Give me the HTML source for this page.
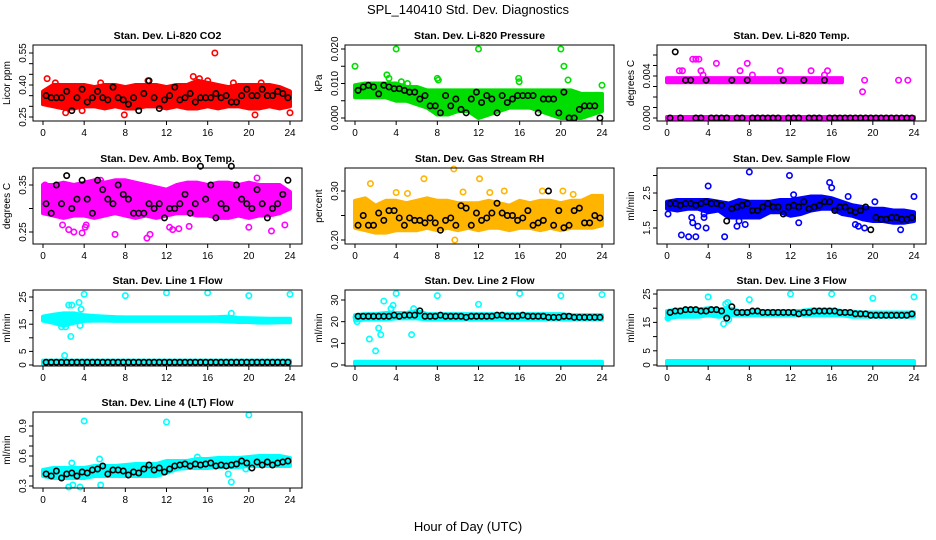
<!DOCTYPE html>
<html><head><meta charset="utf-8">
<style>
html,body{margin:0;padding:0;background:#fff;}
svg{display:block;font-family:"Liberation Sans",sans-serif;}
</style></head>
<body>
<svg id="chart" width="936" height="540" viewBox="0 0 936 540">
<text x="468" y="14" text-anchor="middle" font-size="13">SPL_140410  Std. Dev. Diagnostics</text>
<text x="468" y="531" text-anchor="middle" font-size="13">Hour of Day (UTC)</text>
</svg>
<script>
const bandHours=[0,1,2,3,4,5,6,7,8,9,10,11,12,13,14,15,16,17,18,19,20,21,22,23,24];
const blackHours=[0.3,0.8,1.3,1.8,2.3,2.8,3.3,3.8,4.3,4.8,5.3,5.8,6.3,6.8,7.3,7.8,8.3,8.8,9.3,9.8,10.3,10.8,11.3,11.8,12.3,12.8,13.3,13.8,14.3,14.8,15.3,15.8,16.3,16.8,17.3,17.8,18.3,18.8,19.3,19.8,20.3,20.8,21.3,21.8,22.3,22.8,23.3,23.8];
const xTicks=[0,4,8,12,16,20,24];

const co2Lo=[0.31,0.30,0.29,0.29,0.30,0.30,0.29,0.30,0.29,0.29,0.30,0.30,0.29,0.30,0.29,0.29,0.30,0.29,0.30,0.30,0.29,0.29,0.30,0.29,0.30];
const co2Hi=[0.37,0.40,0.40,0.40,0.40,0.39,0.40,0.40,0.39,0.40,0.40,0.40,0.39,0.40,0.40,0.42,0.41,0.40,0.39,0.40,0.40,0.40,0.40,0.39,0.37];
const co2OutX=[0.4,2.2,3.8,7.9,14.6,15.2,16.7,20.6,24,10.2,5.6,16,1.2,18.5,21.2];
const co2OutY=[0.43,0.27,0.28,0.26,0.44,0.43,0.55,0.26,0.27,0.42,0.41,0.42,0.41,0.41,0.41];
const co2Black=[0.35,0.34,0.34,0.34,0.37,0.28,0.34,0.38,0.32,0.34,0.37,0.34,0.33,0.39,0.34,0.33,0.31,0.34,0.28,0.36,0.42,0.34,0.29,0.33,0.35,0.39,0.33,0.34,0.36,0.32,0.34,0.34,0.34,0.36,0.34,0.35,0.32,0.32,0.35,0.38,0.35,0.35,0.38,0.35,0.35,0.37,0.36,0.34];

const presLo=[0.006,0.006,0.006,0.006,0.005,0.005,0.004,0.003,0.001,0.001,0.002,0.002,0.000,0.001,0.002,0.003,0.003,0.003,0.002,0.001,0.000,0.000,0.000,0.001,0.002];
const presHi=[0.0095,0.0100,0.0100,0.0100,0.0100,0.0090,0.0090,0.0080,0.0080,0.0080,0.0080,0.0080,0.0080,0.0080,0.0080,0.0080,0.0080,0.0080,0.0080,0.0080,0.0080,0.0080,0.0070,0.0070,0.0070];
const presOutX=[0,4,12,20,20.3,3.1,3.3,8,8.1,15.9,15.95,20.7,24,4.5,5.1];
const presOutY=[0.015,0.020,0.020,0.020,0.015,0.0125,0.0115,0.0115,0.011,0.0115,0.0105,0.011,0.0095,0.0105,0.010];
const presBlack=[0.008,0.009,0.0095,0.009,0.007,0.0095,0.009,0.0085,0.0085,0.008,0.0075,0.0075,0.0055,0.0065,0.0035,0.0035,0.0015,0.0065,0.0035,0.0055,0.0025,0.0015,0.0055,0.0075,0.0045,0.0065,0.0055,0.0015,0.0065,0.0045,0.0055,0.0065,0.0065,0.0065,0.0065,0.0015,0.0055,0.0055,0.0055,0.0015,0.0075,0.0000,0.0000,0.0025,0.0035,0.0035,0.0035,0.0000];

const tempLo=[0.0034,0.0034,0.0034,0.0034,0.0034,0.0034,0.0034,0.0034,0.0034,0.0034,0.0034,0.0034,0.0034,0.0034,0.0034,0.0034,0.0034,0.0034,null,null,null,null,null,null,null];
const tempHi=[0.0038,0.0038,0.0038,0.0038,0.0038,0.0038,0.0038,0.0038,0.0038,0.0038,0.0038,0.0038,0.0038,0.0038,0.0038,0.0038,0.0038,0.0038,null,null,null,null,null,null,null];
const tempZeroLo=[-0.0001,-0.0001,-0.0001,-0.0001,-0.0001,-0.0001,-0.0001,-0.0001,-0.0001,-0.0001,-0.0001,-0.0001,-0.0001,-0.0001,-0.0001,-0.0001,-0.0001,-0.0001,-0.0001,-0.0001,-0.0001,-0.0001,-0.0001,-0.0001,-0.0001];
const tempZeroHi=[0.0001,0.0001,0.0001,0.0001,0.0001,0.0001,0.0001,0.0001,0.0001,0.0001,0.0001,0.0001,0.0001,0.0001,0.0001,0.0001,0.0001,0.0001,0.0001,0.0001,0.0001,0.0001,0.0001,0.0001,0.0001];
const tempOutX=[1.2,1.5,2.5,2.8,3.1,3.3,3.5,4.8,7.1,7.8,8.3,11,14,15.3,15.6,19,19.2,22.5,23.4];
const tempOutY=[0.0045,0.0045,0.0056,0.0056,0.0056,0.0045,0.0041,0.0052,0.0045,0.0052,0.0041,0.0045,0.0045,0.0041,0.0045,0.0025,0.0036,0.0036,0.0036];
const tempBlack=[0,0.0063,0,0.0036,0.0036,0,0,0.0036,0,0,0,0,0.0036,0,0,0.0036,0,0,0,0,0,0,0.0036,0,0,0,0.0036,0,0,0,0.0036,0,0,0,0,0,0,0,0,0,0,0,0,0,0,0,0,0];

const ambLo=[0.29,0.285,0.28,0.285,0.285,0.28,0.285,0.29,0.285,0.28,0.285,0.28,0.285,0.29,0.29,0.285,0.285,0.28,0.28,0.285,0.28,0.285,0.285,0.29,0.30];
const ambHi=[0.35,0.35,0.355,0.35,0.355,0.36,0.355,0.36,0.36,0.355,0.35,0.345,0.34,0.35,0.355,0.355,0.35,0.355,0.355,0.35,0.355,0.35,0.35,0.35,0.335];
const ambOutX=[1.9,2.5,3,3.8,4.1,7,10.1,10.4,12.3,12.6,13.2,14.2,20,22.2,23.5,20.8,5.6,0.2,4.2];
const ambOutY=[0.265,0.255,0.25,0.248,0.26,0.245,0.237,0.245,0.26,0.255,0.257,0.262,0.26,0.252,0.265,0.365,0.36,0.35,0.265];
const ambBlack=[0.31,0.29,0.35,0.31,0.37,0.30,0.32,0.36,0.32,0.29,0.36,0.34,0.32,0.31,0.35,0.33,0.32,0.29,0.29,0.29,0.31,0.30,0.31,0.28,0.30,0.30,0.31,0.33,0.29,0.31,0.39,0.32,0.35,0.28,0.31,0.30,0.39,0.35,0.32,0.31,0.30,0.34,0.31,0.28,0.30,0.31,0.33,0.36];

const rhLo=[0.225,0.22,0.215,0.215,0.22,0.22,0.22,0.225,0.22,0.225,0.22,0.225,0.22,0.225,0.225,0.22,0.225,0.225,0.22,0.225,0.22,0.225,0.225,0.225,0.23];
const rhHi=[0.28,0.285,0.27,0.28,0.28,0.275,0.28,0.285,0.28,0.28,0.275,0.275,0.275,0.28,0.275,0.27,0.28,0.275,0.28,0.28,0.275,0.28,0.28,0.29,0.29];
const rhOutX=[1.5,6.7,9.6,12.1,9.7,14.5,18.2,20.2,4,10.5,5.1,13.1,21.2];
const rhOutY=[0.315,0.325,0.345,0.325,0.20,0.30,0.30,0.30,0.297,0.298,0.295,0.297,0.293];
const rhBlack=[0.23,0.25,0.23,0.23,0.255,0.24,0.26,0.26,0.245,0.23,0.245,0.24,0.24,0.235,0.245,0.235,0.22,0.24,0.245,0.23,0.27,0.265,0.23,0.255,0.24,0.245,0.255,0.275,0.255,0.25,0.25,0.24,0.245,0.26,0.23,0.235,0.24,0.30,0.23,0.26,0.225,0.23,0.26,0.265,0.235,0.235,0.25,0.245];

const sfLo=[2.05,2.0,2.05,2.05,1.95,2.0,1.8,1.8,1.8,1.8,1.95,1.95,1.85,1.9,2.0,2.05,2.05,1.9,1.85,1.75,1.7,1.7,1.65,1.65,1.7];
const sfHi=[2.25,2.3,2.3,2.3,2.3,2.25,2.2,2.3,2.25,2.25,2.25,2.3,2.3,2.35,2.4,2.4,2.35,2.25,2.15,2.1,2.05,2.05,2.0,2.0,1.95];
const sfOutX=[0.1,1.4,2.1,2.8,2.4,2.5,3,3.6,3.6,3.8,4,5.6,6.8,7,7.6,8,11.9,12.3,12.8,15.8,16,17.6,18.3,18.6,19.2,22.7,24,20.2];
const sfOutY=[1.9,1.3,1.25,1.25,1.8,1.65,1.55,1.8,1.9,1.5,2.7,1.25,1.55,1.7,1.6,3.1,3.0,2.45,1.65,2.8,2.65,2.4,1.6,1.55,1.5,1.45,2.4,2.25];
const sfBlack=[2.2,2.2,2.15,2.2,2.2,2.15,2.2,2.25,2.2,2.2,2.15,1.7,2.05,2.1,2.15,2.2,2.0,2.0,2.1,2.2,2.1,2.1,1.9,2.1,2.15,2.1,2.25,2.05,2.1,2.15,2.25,2.25,2.0,2.1,2.1,2.0,1.95,2.0,2.1,1.45,1.8,1.75,1.75,1.8,1.8,1.75,1.75,1.8];

const l1Lo=[16.3,15.5,14.5,15.5,16.2,16.3,16.3,16.2,16.2,16.2,16.2,16.2,16.2,16.2,16.2,16.2,16.2,16.2,16.0,15.8,15.8,15.6,15.6,15.7,15.7];
const l1Hi=[17.8,18.5,19,19,18.3,18,17.8,17.6,17.5,17.5,17.5,17.5,17.5,17.5,17.5,17.5,17.5,17.6,17.8,17.3,17.2,17.1,17.0,17.0,17.0];
const l1BotLo=[0.3,0.3,0.3,0.3,0.3,0.3,0.3,0.3,0.3,0.3,0.3,0.3,0.3,0.3,0.3,0.3,0.3,0.3,0.3,0.3,0.3,0.3,0.3,0.3,0.3];
const l1BotHi=[1.6,1.6,1.6,1.6,1.6,1.6,1.6,1.6,1.6,1.6,1.6,1.6,1.6,1.6,1.6,1.6,1.6,1.6,1.6,1.6,1.6,1.6,1.6,1.6,1.6];
const l1OutX=[1.8,2.2,2.5,2.8,3.5,3.7,2.7,2.1,4,8,12,16,20,24,18.3,3.6];
const l1OutY=[14,14,22,22,23,20.5,10.5,3.5,26,25.5,26.5,26.5,25.5,26,19,14.5];
const l1Black=[1,1,1,1,1,1,1,1,1,1,1,1,1,1,1,1,1,1,1,1,1,1,1,1,1,1,1,1,1,1,1,1,1,1,1,1,1,1,1,1,1,1,1,1,1,1,1,1];

const l2Lo=[20.5,21,21,21,21.5,21.5,21.5,21,21,21,21,21,21,21,21,21,21,21,21,21,21,21,21,21,21];
const l2Hi=[23,23.5,23.5,24,24,24,25,23.5,23.5,23.5,23.5,23.5,23.5,23.5,23.5,23.5,23.5,23.5,23.5,23.5,23.5,23,23,23,23];
const l2BotLo=[0.3,0.3,0.3,0.3,0.3,0.3,0.3,0.3,0.3,0.3,0.3,0.3,0.3,0.3,0.3,0.3,0.3,0.3,0.3,0.3,0.3,0.3,0.3,0.3,0.3];
const l2BotHi=[1.5,1.5,1.5,1.5,1.5,1.5,1.5,1.5,1.5,1.5,1.5,1.5,1.5,1.5,1.5,1.5,1.5,1.5,1.5,1.5,1.5,1.5,1.5,1.5,1.5];
const l2OutX=[0.2,1.4,2,2.3,2.5,2.8,3.5,3.7,4,5.5,5.7,8,12,16,20,24,0.1];
const l2OutY=[20,12,6.5,17,14,29.5,26,27.5,33,14,26,32,28,33,32,32.5,22];
const l2Black=[22.5,22.5,22.5,22.5,22.5,22.5,22.5,23,22.5,23,23,23,25,22.5,22.5,22.5,23,22.5,22.5,22.5,22.5,22,22.5,22.5,22.5,22.5,22.5,23,23,22.5,22.5,22.5,23,22.5,22.5,22.5,22.5,22,22,22,22.5,22.5,22,22,22,22,22,22];

const l3Lo=[16.5,17,17,17,17.5,17,17.5,17.5,17.5,17.5,17.5,17.5,17.5,17.5,17.5,17.5,17.5,17.5,17,17,17,17,17,17,17];
const l3Hi=[19,19.5,19.5,19.5,20,19.5,20,19,19,19,19,19,19,19,19.5,19.5,19.5,19,18.8,18.5,18.5,18.5,18.5,18.5,18.5];
const l3BotLo=[0.3,0.3,0.3,0.3,0.3,0.3,0.3,0.3,0.3,0.3,0.3,0.3,0.3,0.3,0.3,0.3,0.3,0.3,0.3,0.3,0.3,0.3,0.3,0.3,0.3];
const l3BotHi=[1.4,1.4,1.4,1.4,1.4,1.4,1.4,1.4,1.4,1.4,1.4,1.4,1.4,1.4,1.4,1.4,1.4,1.4,1.4,1.4,1.4,1.4,1.4,1.4,1.4];
const l3OutX=[0.1,4,8,12,16,20,24,5.5,5.7,5.9,6];
const l3OutY=[16.5,24,23,25,25,23.5,24,14.5,21.5,22,16];
const l3Black=[18.5,19,19,19.5,19.5,19.5,19,19,19.5,19.5,19,16.5,20.5,18.5,18.5,18.5,19,19,18.5,18.5,18.5,18.5,18.5,18.5,18.5,18,18.5,18.5,19,19,19,19,19,18.5,18.5,18.5,18,18,18,17.5,17.5,17.5,17.5,17.5,17.5,17.5,17.5,18];

const l4Lo=[0.40,0.38,0.38,0.38,0.38,0.40,0.40,0.40,0.40,0.40,0.40,0.40,0.43,0.47,0.48,0.48,0.48,0.49,0.49,0.49,0.50,0.50,0.50,0.50,0.50];
const l4Hi=[0.46,0.48,0.48,0.48,0.48,0.50,0.50,0.50,0.51,0.52,0.52,0.52,0.55,0.55,0.55,0.57,0.57,0.58,0.58,0.58,0.59,0.60,0.60,0.60,0.58];
const l4OutX=[2.5,2.9,3.6,4,12,20,5.5,5.6,18,18.3,2.8,15,19.7];
const l4OutY=[0.29,0.31,0.29,0.95,0.94,1.01,0.57,0.31,0.42,0.34,0.53,0.59,0.47];
const l4Black=[0.42,0.40,0.45,0.38,0.42,0.43,0.40,0.44,0.43,0.46,0.47,0.50,0.42,0.46,0.46,0.45,0.41,0.44,0.43,0.47,0.51,0.46,0.48,0.44,0.47,0.50,0.51,0.52,0.50,0.52,0.51,0.52,0.53,0.50,0.51,0.50,0.51,0.52,0.55,0.53,0.48,0.54,0.51,0.54,0.51,0.53,0.54,0.55];

const panels=[
 {name:"co2",title:"Stan. Dev. Li-820 CO2",ylab:"Licor ppm",col:0,row:0,v0:0.25,p0:72,v1:0.55,p1:8,ticks:[0.25,0.30,0.35,0.40,0.45,0.50,0.55],labels:["0.25","0.40","0.55"],color:"#ff0000",bands:[[co2Lo,co2Hi]],ox:co2OutX,oy:co2OutY,bx:blackHours,by:co2Black},
 {name:"pressure",title:"Stan. Dev. Li-820 Pressure",ylab:"kPa",col:1,row:0,v0:0,p0:73,v1:0.02,p1:4,ticks:[0,0.005,0.01,0.015,0.02],labels:["0.000","0.010","0.020"],color:"#00dd00",bands:[[presLo,presHi]],ox:presOutX,oy:presOutY,bx:blackHours,by:presBlack},
 {name:"temp",title:"Stan. Dev. Li-820 Temp.",ylab:"degrees C",col:2,row:0,v0:0,p0:73,v1:0.004,p1:31,ticks:[0,0.001,0.002,0.003,0.004,0.005,0.006],labels:["0.000","0.004"],color:"#ff00ff",bands:[[tempLo,tempHi],[tempZeroLo,tempZeroHi]],ox:tempOutX,oy:tempOutY,bx:blackHours,by:tempBlack},
 {name:"amb-box-temp",title:"Stan. Dev. Amb. Box Temp.",ylab:"degrees C",col:0,row:1,v0:0.25,p0:64,v1:0.35,p1:17,ticks:[0.25,0.30,0.35],labels:["0.25","0.35"],color:"#ff00ff",bands:[[ambLo,ambHi]],ox:ambOutX,oy:ambOutY,bx:blackHours,by:ambBlack},
 {name:"gas-rh",title:"Stan. Dev. Gas Stream RH",ylab:"percent",col:1,row:1,v0:0.20,p0:72,v1:0.30,p1:23,ticks:[0.20,0.25,0.30],labels:["0.20","0.30"],color:"#ffb400",bands:[[rhLo,rhHi]],ox:rhOutX,oy:rhOutY,bx:blackHours,by:rhBlack},
 {name:"sample-flow",title:"Stan. Dev. Sample Flow",ylab:"ml/min",col:2,row:1,v0:1.5,p0:60,v1:2.5,p1:25,ticks:[1.5,2.0,2.5,3.0],labels:["1.5","2.5"],color:"#0000ff",bands:[[sfLo,sfHi]],ox:sfOutX,oy:sfOutY,bx:blackHours,by:sfBlack},
 {name:"line1-flow",title:"Stan. Dev. Line 1 Flow",ylab:"ml/min",col:0,row:2,v0:0,p0:75,v1:25,p1:7,ticks:[0,5,10,15,20,25],labels:["0","5","15","25"],color:"#00ffff",bands:[[l1Lo,l1Hi],[l1BotLo,l1BotHi]],ox:l1OutX,oy:l1OutY,bx:blackHours,by:l1Black},
 {name:"line2-flow",title:"Stan. Dev. Line 2 Flow",ylab:"ml/min",col:1,row:2,v0:0,p0:75,v1:30,p1:10,ticks:[0,10,20,30],labels:["0","10","20","30"],color:"#00ffff",bands:[[l2Lo,l2Hi],[l2BotLo,l2BotHi]],ox:l2OutX,oy:l2OutY,bx:blackHours,by:l2Black},
 {name:"line3-flow",title:"Stan. Dev. Line 3 Flow",ylab:"ml/min",col:2,row:2,v0:0,p0:75,v1:25,p1:4,ticks:[0,5,10,15,20,25],labels:["0","5","15","25"],color:"#00ffff",bands:[[l3Lo,l3Hi],[l3BotLo,l3BotHi]],ox:l3OutX,oy:l3OutY,bx:blackHours,by:l3Black},
 {name:"line4-flow",title:"Stan. Dev. Line 4 (LT) Flow",ylab:"ml/min",col:0,row:3,v0:0.3,p0:74,v1:0.9,p1:14,ticks:[0.3,0.4,0.5,0.6,0.7,0.8,0.9],labels:["0.3","0.6","0.9"],color:"#00ffff",bands:[[l4Lo,l4Hi]],ox:l4OutX,oy:l4OutY,bx:blackHours,by:l4Black}
];

const NS="http://www.w3.org/2000/svg";
const svg=document.getElementById("chart");
const colLeft=[33,345,657], rowTop=[45,168,290,412], W=269, H=76;
function mk(tag,attrs,parent){const e=document.createElementNS(NS,tag);for(const k in attrs)e.setAttribute(k,attrs[k]);(parent||svg).appendChild(e);return e;}

panels.forEach(p=>{
  const L=colLeft[p.col], T=rowTop[p.row];
  const xs=h=>L+10+h*(247/24);
  const ys=v=>T+p.p0+(v-p.v0)*(p.p1-p.p0)/(p.v1-p.v0);
  const g=mk("g",{});
  
  
  const t=mk("text",{x:L+W/2,y:T-6,"text-anchor":"middle","font-size":"10.5","font-weight":"bold"},g);
  t.textContent=p.title;
  
  
  p.bands.forEach((b,bi)=>{
    let seg=[];
    const flush=()=>{
      if(seg.length>1){
        const pts=seg.map(i=>xs(bandHours[i])+","+ys(b[1][i])).concat(seg.slice().reverse().map(i=>xs(bandHours[i])+","+ys(b[0][i])));
        const poly=mk("polygon",{points:pts.join(" "),fill:p.color,stroke:p.color,"stroke-width":"4","stroke-linejoin":"round"},g);
        
        
      }
      seg=[];
    };
    bandHours.forEach((h,i)=>{ if(b[0][i]===null||b[1][i]===null) flush(); else seg.push(i); });
    flush();
  });
  p.ox.forEach((h,i)=>{
    const c=mk("circle",{cx:xs(h),cy:ys(p.oy[i]),r:2.7,fill:"none",stroke:p.color,"stroke-width":"1.6"},g);
    
    
  });
  p.bx.forEach((h,i)=>{
    const c=mk("circle",{cx:xs(h),cy:ys(p.by[i]),r:2.7,fill:"none",stroke:"#000","stroke-width":"1.6"},g);
    
    
  });
  const box=mk("rect",{x:L,y:T,width:W,height:H,fill:"none",stroke:"#000","stroke-width":"1"},g);
  
  
  mk("line",{x1:xs(0),x2:xs(24),y1:T+H,y2:T+H,stroke:"#000"},g);
  xTicks.forEach(h=>{
    mk("line",{x1:xs(h),x2:xs(h),y1:T+H,y2:T+H+4,stroke:"#000"},g);
    const lt=mk("text",{x:xs(h),y:T+H+15,"text-anchor":"middle","font-size":"10"},g);
    lt.textContent=String(h);
    
    
  });
  p.ticks.forEach(v=>{
    mk("line",{x1:L-4,x2:L,y1:ys(v),y2:ys(v),stroke:"#000"},g);
  });
  p.labels.forEach(s=>{
    const v=parseFloat(s), yy=ys(v), xx=L-7;
    const lt=mk("text",{x:xx,y:yy,"text-anchor":"middle","font-size":"10",transform:"rotate(-90 "+xx+" "+yy+")"},g);
    lt.textContent=s;
    
    
  });
  const yl=mk("text",{x:L-23,y:T+H/2,"text-anchor":"middle","font-size":"10",transform:"rotate(-90 "+(L-23)+" "+(T+H/2)+")"},g);
  yl.textContent=p.ylab;
  
  
});
</script>
</body></html>
